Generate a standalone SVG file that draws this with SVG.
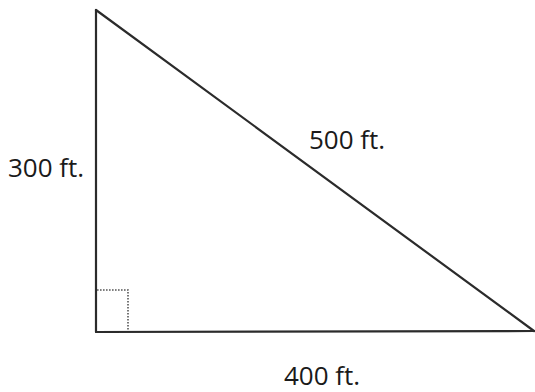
<svg xmlns="http://www.w3.org/2000/svg" width="535" height="392" viewBox="0 0 535 392">
<style>
.edge{stroke:#2b2b2b;stroke-width:2.2;fill:none;stroke-linecap:round}
.ra{stroke:#555;stroke-width:1.6;fill:none;stroke-dasharray:1.6 1.4}
.lbl{font-family:"Open Sans","Noto Sans",sans-serif;font-size:26px;fill:#1a1a1a}
</style>
<rect width="535" height="392" fill="#ffffff"/>
<g id="connectors">
<line class="edge" x1="96" y1="10" x2="96" y2="332"/>
<line class="edge" x1="96" y1="332" x2="534" y2="331"/>
<line class="edge" x1="96" y1="10" x2="534" y2="331"/>
</g>
<g id="right-angle">
<polyline class="ra" points="97,290 128,290 128,331"/>
</g>
<g id="label-300"><text class="lbl" x="8" y="177">300 ft.</text></g>
<g id="label-500"><text class="lbl" x="309" y="149">500 ft.</text></g>
<g id="label-400"><text class="lbl" x="284" y="385">400 ft.</text></g>
</svg>
